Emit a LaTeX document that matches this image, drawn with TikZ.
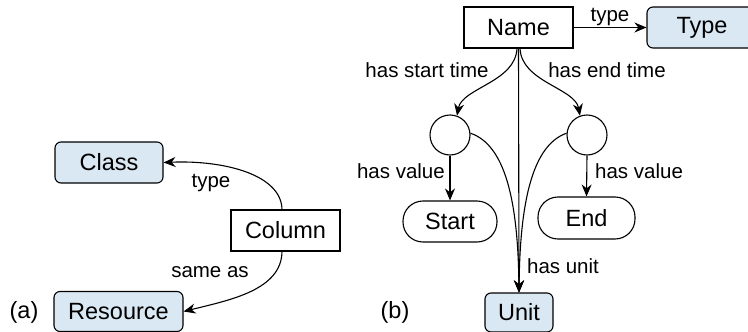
\documentclass[tikz,border=0pt]{standalone}
\usepackage{fontspec}
\setmainfont{Liberation Sans}
\usetikzlibrary{arrows.meta}
\definecolor{nodeblue}{RGB}{218,232,244}
\tikzset{
  every picture/.style={x=1pt,y=-1pt},
  base/.style={draw=black,line width=1.1pt,inner sep=0pt,font=\fontsize{23.5}{26}\selectfont},
  bluebox/.style={base,fill=nodeblue,rounded corners=6pt},
  plainbox/.style={base,fill=white},
  pill/.style={base,fill=white,rounded corners=20pt},
  blank/.style={draw=black,line width=1.1pt,circle,minimum size=40pt,inner sep=0pt},
  lbl/.style={font=\fontsize{20.5}{23}\selectfont,inner sep=1pt},
  edge/.style={line width=1.1pt,-{Stealth[length=12pt,width=10pt]}},
  plainedge/.style={line width=1.1pt},
}
\begin{document}
\begin{tikzpicture}
\useasboundingbox (0,0) rectangle (748,332);
\clip (0,0) rectangle (748,332);
% (a)
\node[bluebox,minimum width=108pt,minimum height=41pt] (class) at (109,162.5) {Class};
\node[plainbox,minimum width=109pt,minimum height=41pt] (column) at (285.5,230.5) {Column};
\node[bluebox,minimum width=129pt,minimum height=40pt] (resource) at (118.5,311.5) {Resource};
\node[lbl,font=\fontsize{23.5}{26}\selectfont] (la) at (24,312) {(a)};
\draw[edge] (282,210) .. controls (282,175) and (225,160) .. (class.east);
\draw[edge] (282,251) .. controls (282,290) and (230,300) .. (resource.east);
\node[lbl] (ltype) at (211,183) {type};
\node[lbl] (lsame) at (210,272) {same as};
% (b)
\node[plainbox,minimum width=109pt,minimum height=41pt] (name) at (518.5,27.5) {Name};
\node[bluebox,minimum width=110pt,minimum height=41pt] (type) at (702,27.5) {Type};
\node[blank] (c1) at (450,135) {};
\node[blank] (c2) at (587,135) {};
\node[pill,minimum width=94pt,minimum height=41pt] (start) at (450,221.5) {Start};
\node[pill,minimum width=97pt,minimum height=42pt] (end) at (586.5,218) {End};
\node[bluebox,minimum width=68pt,minimum height=39pt] (unit) at (519,312.5) {Unit};
\node[lbl,font=\fontsize{23.5}{26}\selectfont] (lb) at (395,312) {(b)};
\draw[edge] (name.east) -- node[lbl,above=0pt] {type} (type.west);
\draw[edge] (517,48) .. controls (516,82) and (462,88) .. (c1.70);
\draw[edge] (520,48) .. controls (521,82) and (575,88) .. (c2.110);
\draw[edge] (518.5,48) -- (unit.north);
\draw[edge] (c1.5) .. controls (505,145) and (518,200) .. (unit.north);
\draw[edge] (c2.175) .. controls (533,145) and (520,200) .. (unit.north);
\draw[edge] (c1.south) -- (start.north);
\draw[edge] (c2.south) -- (end.north);
\node[lbl] (lst) at (427,70) {has start time};
\node[lbl] (let) at (607,70) {has end time};
\node[lbl,anchor=east] (lv1) at (446,171) {has value};
\node[lbl,anchor=west] (lv2) at (594,171) {has value};
\node[lbl] (lu) at (563,266) {has unit};
\end{tikzpicture}
\end{document}
